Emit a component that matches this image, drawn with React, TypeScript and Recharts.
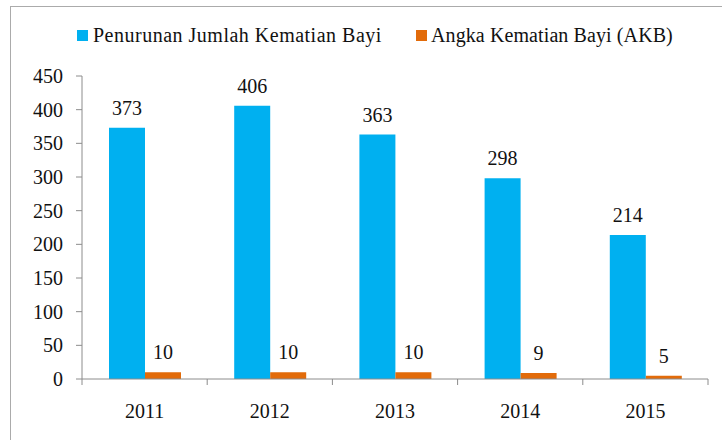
import React from 'react';
import { BarChart, Bar, XAxis, YAxis, LabelList } from 'recharts';

const years = ['2011', '2012', '2013', '2014', '2015'];
const penurunan = [373, 406, 363, 298, 214];
const akb = [10, 10, 10, 9, 5];
const yTicks = [0, 50, 100, 150, 200, 250, 300, 350, 400, 450];

const BLUE = '#00B0F0';
const ORANGE = '#E26B0A';
const AXIS = '#8c8c8c';
const FONT = '"Liberation Serif", serif';

const W = 722;
const H = 440;
const Y_AXIS_W = 82;
const RIGHT = 14;
const BAND = (W - Y_AXIS_W - RIGHT) / years.length;

const data = years.map((year, i) => ({
  year,
  penurunan: penurunan[i],
  akb: akb[i],
}));

// tick marks sit on the category borders, labels in the middle
function YearTick(props: any) {
  const { x, y, payload, index } = props;
  const half = BAND / 2;
  return (
    <g>
      <line x1={x - half} x2={x - half} y1={y} y2={y + 6} stroke={AXIS} />
      {index === years.length - 1 && (
        <line x1={x + half} x2={x + half} y1={y} y2={y + 6} stroke={AXIS} />
      )}
      <text x={x} y={y + 39} textAnchor="middle" fontSize={20} fill="#111" fontFamily={FONT}>
        {payload.value}
      </text>
    </g>
  );
}

function ValueTick(props: any) {
  const { x, y, payload } = props;
  return (
    <text x={x} y={y + 7} textAnchor="end" fontSize={20} fill="#111" fontFamily={FONT}>
      {payload.value}
    </text>
  );
}

function BarValue(props: any) {
  const { x, y, width, value } = props;
  return (
    <text x={x + width / 2} y={y - 13} textAnchor="middle" fontSize={20} fill="#111" fontFamily={FONT}>
      {value}
    </text>
  );
}

export default function App() {
  return (
    <div style={{ position: 'absolute', left: 0, top: 0, width: W, height: H, overflow: 'hidden', background: '#fff' }}>
      <div style={{ position: 'absolute', left: 10, top: 6, width: 800, height: 500, border: '1px solid #ababab' }} />
      <svg width={W} height={60} style={{ position: 'absolute', left: 0, top: 0 }}>
        <rect x={77} y={30} width={11} height={11} fill={BLUE} />
        <text x={93} y={42} fontSize={20} fill="#111" fontFamily={FONT} letterSpacing={0.5}>
          Penurunan Jumlah Kematian Bayi
        </text>
        <rect x={416} y={30} width={11} height={11} fill={ORANGE} />
        <text x={431} y={42} fontSize={20} fill="#111" fontFamily={FONT} letterSpacing={0.1}>
          Angka Kematian Bayi (AKB)
        </text>
      </svg>
      <div style={{ position: 'absolute', left: 0, top: 0 }}>
        <BarChart width={W} height={H} data={data} margin={{ top: 76, right: RIGHT, bottom: 21, left: 0 }} barGap={0} barSize={36}>
          <XAxis
            dataKey="year"
            height={40}
            interval={0}
            tickLine={false}
            tickSize={0}
            tickMargin={0}
            axisLine={{ stroke: AXIS }}
            tick={(p: any) => <YearTick {...p} />}
          />
          <YAxis
            width={Y_AXIS_W}
            domain={[0, 450]}
            ticks={yTicks}
            interval={0}
            tickSize={6}
            tickMargin={13}
            axisLine={{ stroke: AXIS }}
            tickLine={{ stroke: AXIS }}
            tick={(p: any) => <ValueTick {...p} />}
          />
          <Bar dataKey="penurunan" fill={BLUE} isAnimationActive={false}>
            <LabelList dataKey="penurunan" content={(p: any) => <BarValue {...p} />} />
          </Bar>
          <Bar dataKey="akb" fill={ORANGE} isAnimationActive={false}>
            <LabelList dataKey="akb" content={(p: any) => <BarValue {...p} />} />
          </Bar>
        </BarChart>
      </div>
    </div>
  );
}
